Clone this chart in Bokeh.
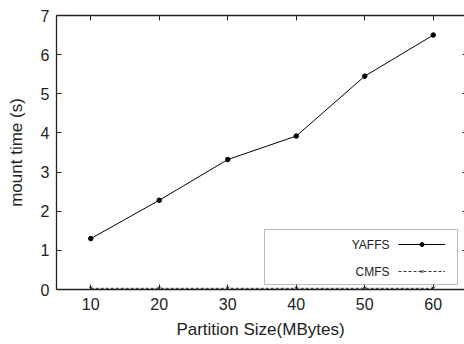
from bokeh.plotting import figure
from bokeh.models import (Range1d, LinearAxis, FixedTicker, Legend, LegendItem,
                          BoxAnnotation, Label)
from bokeh.embed import file_html
from bokeh.resources import INLINE

sizes = [10, 20, 30, 40, 50, 60]
yaffs = [1.30, 2.28, 3.32, 3.92, 5.45, 6.50]
cmfs = [0.03, 0.03, 0.03, 0.03, 0.03, 0.03]
x_ticks = [10, 20, 30, 40, 50, 60]
y_ticks = [0, 1, 2, 3, 4, 5, 6, 7]

FONT = "Liberation Sans"

p = figure(width=464, height=344, output_backend="svg", toolbar_location=None,
           x_range=Range1d(5, 64.56), y_range=Range1d(0, 7),
           min_border_left=56, min_border_top=15, min_border_bottom=55,
           min_border_right=0, x_axis_location=None, y_axis_location=None)
p.grid.visible = False
p.outline_line_color = None
p.background_fill_color = "white"
p.border_fill_color = "white"

def style(ax, labels=True, line=True):
    ax.axis_line_color = "#222222" if line else None
    ax.axis_line_width = 1.3
    ax.major_tick_in = 5
    ax.major_tick_out = 0
    ax.minor_tick_in = 0
    ax.minor_tick_out = 0
    ax.minor_tick_line_color = None
    ax.major_tick_line_color = "#222222"
    ax.major_label_text_font = FONT
    ax.major_label_text_font_size = "16px"
    ax.major_label_text_color = "#222222"
    ax.axis_label_text_font = FONT
    ax.axis_label_text_font_size = "17px"
    ax.axis_label_text_font_style = "normal"
    ax.axis_label_text_color = "#222222"
    if not labels:
        ax.major_label_overrides = {t: "" for t in ax.ticker.ticks}
        ax.major_label_standoff = 0
        ax.axis_label_standoff = 0

xb = LinearAxis(ticker=FixedTicker(ticks=x_ticks), axis_label="Partition Size(MBytes)")
style(xb)
xb.major_label_standoff = 8
xb.axis_label_standoff = 7
p.add_layout(xb, "below")

yl = LinearAxis(ticker=FixedTicker(ticks=y_ticks), axis_label="mount time (s)")
style(yl)
yl.major_label_standoff = 7
yl.axis_label_standoff = 12
p.add_layout(yl, "left")

xt = LinearAxis(ticker=FixedTicker(ticks=x_ticks))
style(xt, labels=False)
p.add_layout(xt, "above")

yr = LinearAxis(ticker=FixedTicker(ticks=y_ticks))
style(yr, labels=False, line=False)
yr.major_tick_in = 2
yr.major_label_standoff = -7
p.add_layout(yr, "right")

l1 = p.line(sizes, yaffs, line_color="black", line_width=1)
s1 = p.scatter(sizes, yaffs, marker="circle", size=4.5, fill_color="black", line_color="black")
l2 = p.line(sizes, cmfs, line_color="#333333", line_width=1, line_dash="3 2")
s2 = p.scatter(sizes, cmfs, marker="x", size=5, line_color="#333333", line_width=1)

# legend box (gnuplot style: text then sample)
box = BoxAnnotation(left=208, right=401, top=60, bottom=5,
                    left_units="screen", right_units="screen",
                    top_units="screen", bottom_units="screen",
                    fill_color="white", fill_alpha=1.0,
                    line_color="#222222", line_width=1, level="overlay")
p.add_layout(box)

leg = Legend(items=[LegendItem(label="YAFFS", renderers=[l1, s1]),
                    LegendItem(label="CMFS", renderers=[l2, s2])],
             location=(342, 13), glyph_width=47, glyph_height=10, spacing=17,
             label_text_font_size="0px", label_width=0, label_standoff=0,
             border_line_color=None, background_fill_alpha=0, padding=0, margin=0)
p.add_layout(leg)

for i, name in enumerate(["YAFFS", "CMFS"]):
    p.add_layout(Label(x=333, y=45 - i * 27, x_units="screen", y_units="screen",
                       text=name, text_align="right", text_baseline="middle",
                       text_font=FONT, text_font_size="12px", text_color="#222222",
                       level="overlay"))

open("out.html", "w").write(file_html(p, INLINE))
